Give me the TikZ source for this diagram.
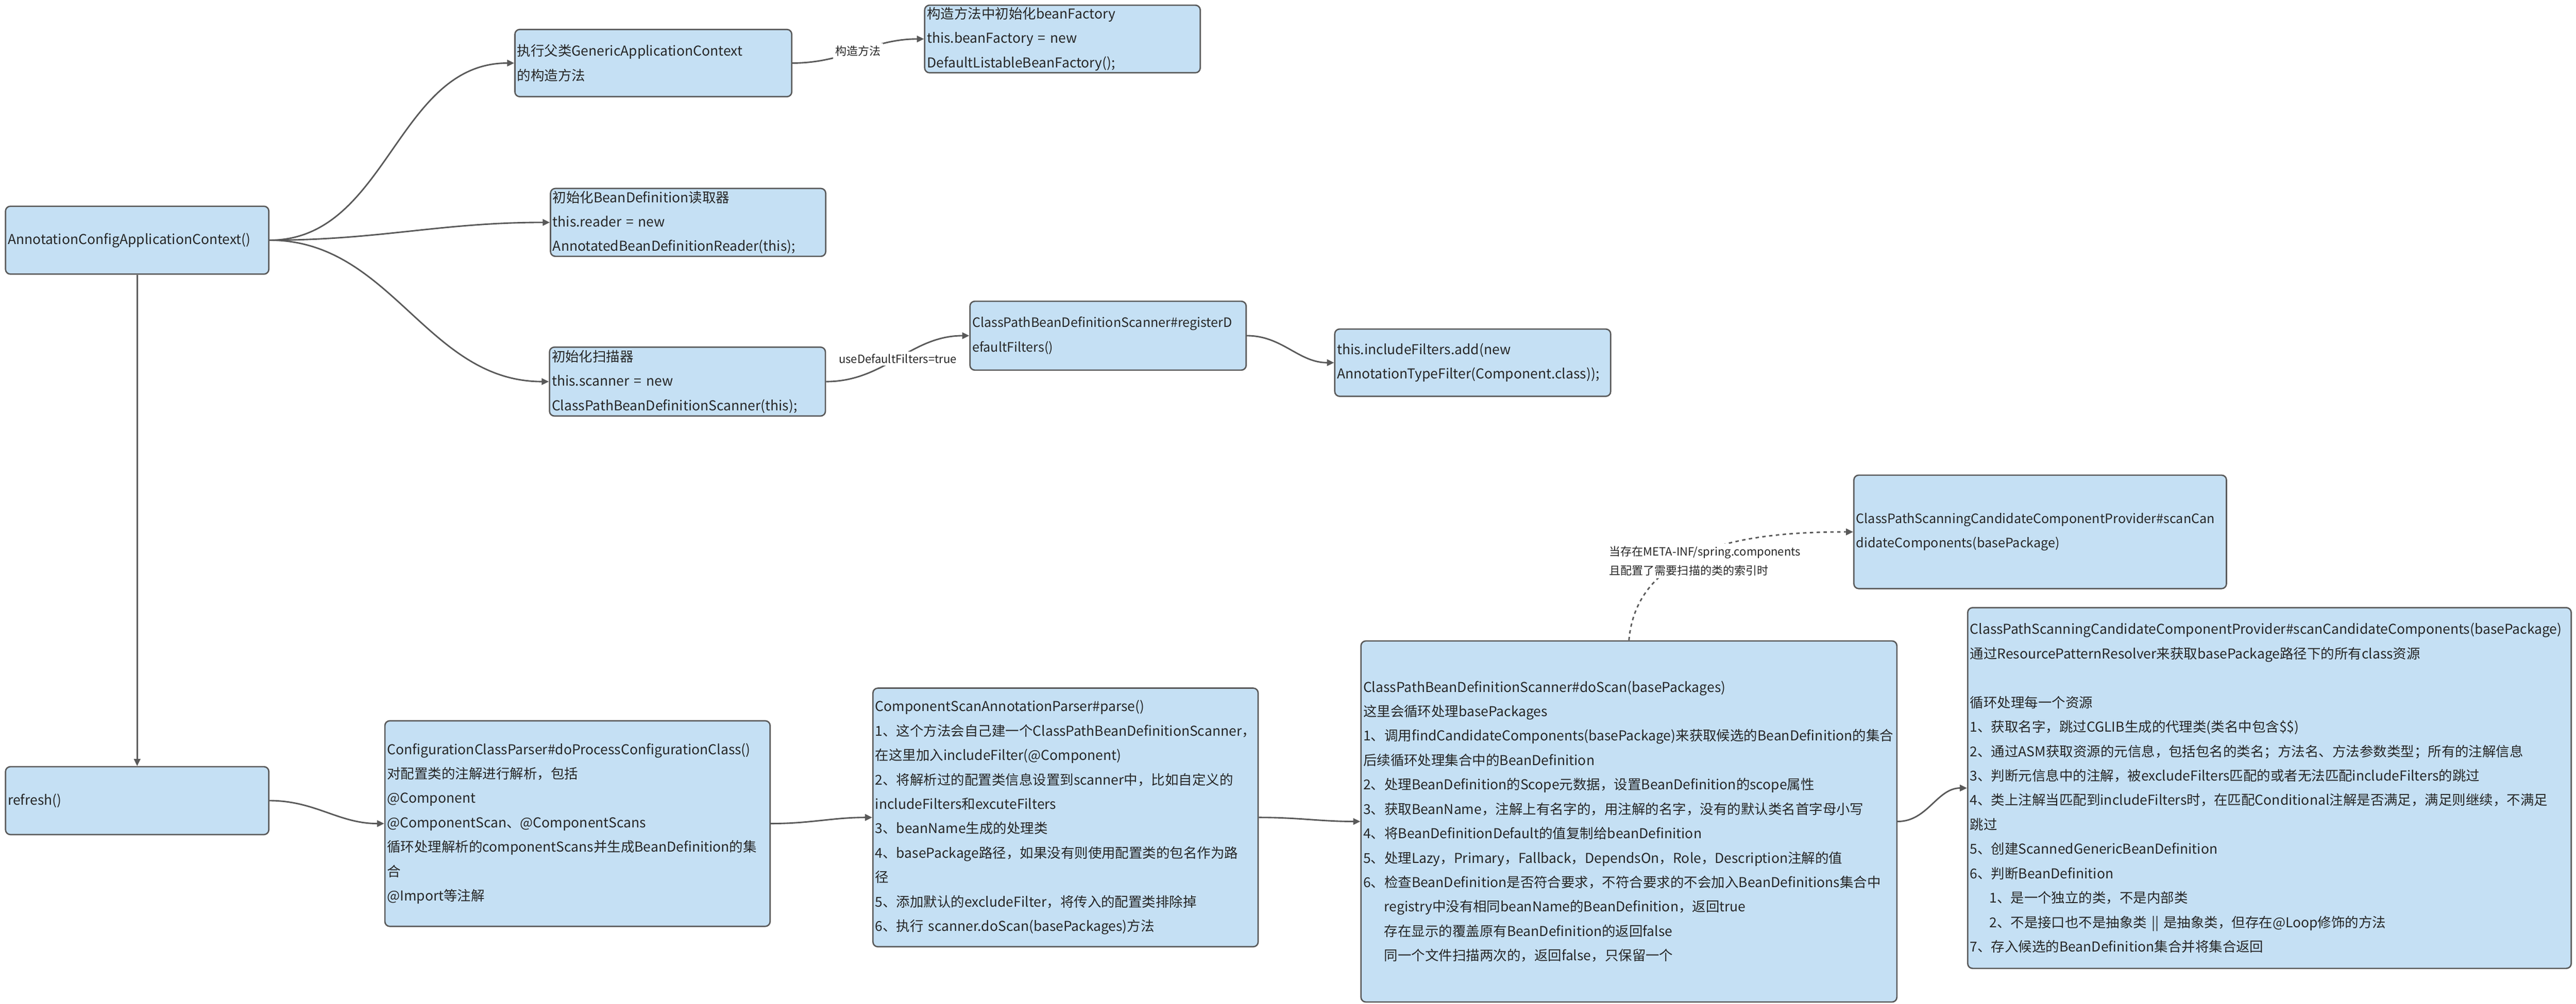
\documentclass[tikz,border=0pt]{standalone}
\usepackage{fontspec}
\setmainfont{Noto Sans CJK SC}
\usetikzlibrary{arrows.meta}
\definecolor{boxfill}{HTML}{C5E0F4}
\definecolor{boxline}{HTML}{595959}
\definecolor{ink}{HTML}{262626}

\begin{document}
\begin{tikzpicture}[method/.style={draw=boxline,line width=1.2pt,fill=boxfill,rounded corners=0.15cm,anchor=north west,align=left,inner xsep=0.07cm,inner ysep=1pt,text=ink,font={\fontsize{12}{21.5}\selectfont}},narrow/.style={font={\fontsize{11.4}{21.5}\selectfont}},arrow/.style={-{Triangle[length=0.22cm,width=0.2cm]},line width=1.3pt,draw=boxline},hint/.style={fill=white,align=left,inner sep=2pt,text=ink,font={\fontsize{10}{17}\selectfont}}]
  \useasboundingbox (0,0) rectangle (79.65,-31.05);
  \node[method,text width=8.00cm,minimum height=2.10cm] (actx) at (0.15,-6.36) {AnnotationConfigApplicationContext()};
  \node[method,text width=8.42cm,minimum height=2.08cm] (gac) at (15.90,-0.89) {执行父类GenericApplicationContext\\的构造方法};
  \node[method,text width=8.37cm,minimum height=2.10cm] (reader) at (17.00,-5.81) {初始化BeanDefinition读取器\\this.reader = new\\AnnotatedBeanDefinitionReader(this);};
  \node[method,text width=8.38cm,minimum height=2.09cm] (factory) at (28.57,-0.14) {构造方法中初始化beanFactory\\this.beanFactory = new\\DefaultListableBeanFactory();};
  \node[method,text width=8.39cm,minimum height=2.13cm] (scanner) at (16.97,-10.72) {初始化扫描器\\this.scanner = new\\ClassPathBeanDefinitionScanner(this);};
  \node[method,narrow,text width=8.40cm,minimum height=2.13cm] (regfilters) at (29.97,-9.30) {ClassPathBeanDefinitionScanner\#registerD\\efaultFilters()};
  \node[method,text width=8.39cm,minimum height=2.08cm] (include) at (41.25,-10.16) {this.includeFilters.add(new\\AnnotationTypeFilter(Component.class));};
  \node[method,text width=8.00cm,minimum height=2.10cm] (refresh) at (0.15,-23.70) {refresh()};
  \node[method,text width=11.77cm,minimum height=6.36cm] (cfgparser) at (11.88,-22.28) {ConfigurationClassParser\#doProcessConfigurationClass()\\对配置类的注解进行解析，包括\\@Component\\@ComponentScan、@ComponentScans\\循环处理解析的componentScans并生成BeanDefinition的集\\合\\@Import等注解};
  \node[method,text width=11.77cm,minimum height=8.00cm] (scanparser) at (26.97,-21.27) {ComponentScanAnnotationParser\#parse()\\1、这个方法会自己建一个ClassPathBeanDefinitionScanner，\\在这里加入includeFilter(@Component)\\2、将解析过的配置类信息设置到scanner中，比如自定义的\\includeFilters和excuteFilters\\3、beanName生成的处理类\\4、basePackage路径，如果没有则使用配置类的包名作为路\\径\\5、添加默认的excludeFilter，将传入的配置类排除掉\\6、执行 scanner.doScan(basePackages)方法};
  \node[method,text width=16.43cm,minimum height=11.17cm] (doscan) at (42.06,-19.81) {ClassPathBeanDefinitionScanner\#doScan(basePackages)\\这里会循环处理basePackages\\1、调用findCandidateComponents(basePackage)来获取候选的BeanDefinition的集合\\后续循环处理集合中的BeanDefinition\\2、处理BeanDefinition的Scope元数据，设置BeanDefinition的scope属性\\3、获取BeanName，注解上有名字的，用注解的名字，没有的默认类名首字母小写\\4、将BeanDefinitionDefault的值复制给beanDefinition\\5、处理Lazy，Primary，Fallback，DependsOn，Role，Description注解的值\\6、检查BeanDefinition是否符合要求，不符合要求的不会加入BeanDefinitions集合中\\\hspace*{0.65cm}registry中没有相同beanName的BeanDefinition，返回true\\\hspace*{0.65cm}存在显示的覆盖原有BeanDefinition的返回false\\\hspace*{0.65cm}同一个文件扫描两次的，返回false，只保留一个};
  \node[method,text width=18.52cm,minimum height=11.16cm] (scancand) at (60.82,-18.78) {ClassPathScanningCandidateComponentProvider\#scanCandidateComponents(basePackage)\\通过ResourcePatternResolver来获取basePackage路径下的所有class资源\\~\\循环处理每一个资源\\1、获取名字，跳过CGLIB生成的代理类(类名中包含\$\$)\\2、通过ASM获取资源的元信息，包括包名的类名；方法名、方法参数类型；所有的注解信息\\3、判断元信息中的注解，被excludeFilters匹配的或者无法匹配includeFilters的跳过\\4、类上注解当匹配到includeFilters时，在匹配Conditional注解是否满足，满足则继续，不满足\\跳过\\5、创建ScannedGenericBeanDefinition\\6、判断BeanDefinition\\\hspace*{0.6cm}1、是一个独立的类，不是内部类\\\hspace*{0.6cm}2、不是接口也不是抽象类 || 是抽象类，但存在@Loop修饰的方法\\7、存入候选的BeanDefinition集合并将集合返回};
  \node[method,narrow,text width=11.38cm,minimum height=3.51cm] (scanindex) at (57.30,-14.68) {ClassPathScanningCandidateComponentProvider\#scanCan\\didateComponents(basePackage)};
  \draw[arrow] (actx.east) to[out=0,in=180] (gac.west);
  \draw[arrow] (actx.east) to[out=0,in=180] (reader.west);
  \draw[arrow] (actx.east) to[out=0,in=180] (scanner.west);
  \draw[arrow] (actx.south) -- (refresh.north);
  \draw[arrow] (gac.east) to[out=0,in=180] node[hint] {构造方法} (factory.west);
  \draw[arrow] (scanner.east) to[out=0,in=180] node[hint] {useDefaultFilters=true} (regfilters.west);
  \draw[arrow] (regfilters.east) to[out=0,in=180] (include.west);
  \draw[arrow] (refresh.east) to[out=0,in=180] (cfgparser.west);
  \draw[arrow] (cfgparser.east) to[out=0,in=180] (scanparser.west);
  \draw[arrow] (scanparser.east) to[out=0,in=180] (doscan.west);
  \draw[arrow] (doscan.east) to[out=0,in=180] (scancand.west);
  \draw[arrow,dashed] (doscan.north) to[out=85,in=180] node[hint,pos=0.45,xshift=0.3cm,yshift=-0.2cm] {当存在META-INF/spring.components\\且配置了需要扫描的类的索引时} (scanindex.west);
\end{tikzpicture}
\end{document}
